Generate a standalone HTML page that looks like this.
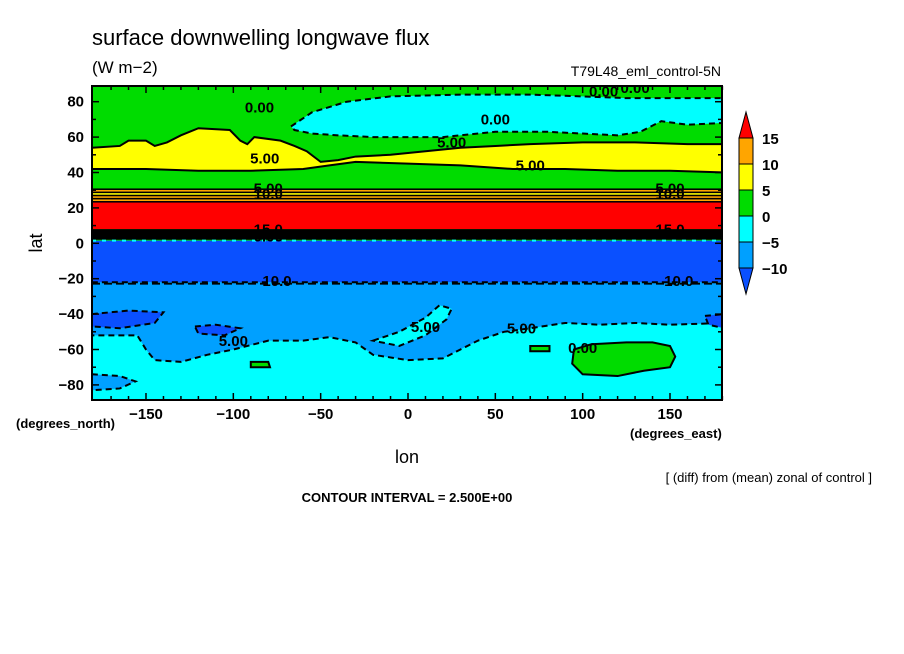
<!DOCTYPE html>
<html><head><meta charset="utf-8"><style>
html,body{margin:0;padding:0;background:#fff;}
svg{display:block;font-family:"Liberation Sans",sans-serif;}
</style></head><body>
<svg id="c" width="904" height="654" viewBox="0 0 904 654" xmlns="http://www.w3.org/2000/svg">
<text x="92" y="45" font-size="22">surface downwelling longwave flux</text>
<text x="92" y="73" font-size="17">(W m−2)</text>
<text x="721" y="76" font-size="14" text-anchor="end">T79L48_eml_control-5N</text>
<defs><clipPath id="pc"><rect x="92" y="86" width="630" height="314"/></clipPath></defs>
<g id="field" clip-path="url(#pc)"></g>
<g id="axes"></g>
<g id="cbar"></g>
<text transform="translate(42,243) rotate(-90)" font-size="18" text-anchor="middle">lat</text>
<text x="16" y="428" font-size="13" font-weight="bold">(degrees_north)</text>
<text x="630" y="438" font-size="13" font-weight="bold">(degrees_east)</text>
<text x="407" y="463" font-size="18" text-anchor="middle">lon</text>
<text x="872" y="482" font-size="13" text-anchor="end">[ (diff) from (mean) zonal of control ]</text>
<text x="407" y="502" font-size="13" font-weight="bold" text-anchor="middle">CONTOUR INTERVAL = 2.500E+00</text>
</svg>
<script>
const lonTicks=[-150,-100,-50,0,50,100,150];
const latTicks=[-80,-60,-40,-20,0,20,40,60,80];
const cbarLevels=[15,10,5,0,-5,-10];
const cbarColors=["#ff0000","#ffa500","#ffff00","#00dc00","#00ffff","#00a0ff","#0a50ff"];
const bandLats=[[31,23,"stripes"],[23,8,"#ff0000"],[8,2,"#000000"],[1.5,-22.8,"#0a50ff"]];
const cyanNorth=[[-67,66],[-55,74],[-35,80],[-10,83],[30,84],[70,84],[100,83],[125,82],[150,82],[180,82],[180,68],[160,67],[145,69],[133,63],[120,61],[100,62],[80,63],[50,63],[20,60],[0,60],[-20,60],[-40,61],[-55,62],[-65,64]];
const yellowBand=[[-181,54],[-165,55],[-160,58],[-150,58],[-145,55],[-138,57],[-130,61],[-120,65],[-102,64],[-96,58],[-92,56],[-88,60],[-73,58],[-65,55],[-58,52],[-50,46],[-40,47],[-30,49],[-10,50],[10,52],[30,54],[50,55],[70,56],[100,57],[130,57],[160,56],[181,56],[181,40],[150,41],[120,41],[90,42],[60,42],[30,44],[0,45],[-30,46],[-45,44],[-60,42],[-90,41],[-120,41],[-150,42],[-181,42]];
const ltBlue=[[-181,-22],[181,-22],[181,-45],[150,-46],[130,-45],[110,-46],[90,-45],[70,-48],[55,-50],[40,-55],[30,-60],[20,-65],[0,-66],[-20,-63],[-30,-56],[-45,-53],[-60,-55],[-80,-55],[-100,-60],[-115,-63],[-130,-67],[-145,-66],[-150,-60],[-155,-52],[-181,-52]];
const cyanSouthBlob=[[-20,-55],[-5,-50],[10,-42],[18,-35],[25,-37],[22,-43],[10,-52],[-5,-58]];
const blueBlobs=[[[-181,-40],[-160,-38],[-140,-39],[-145,-45],[-165,-48],[-181,-47]],[[-122,-47],[-110,-46],[-96,-48],[-105,-52],[-120,-51]],[[170,-41],[181,-40],[181,-48],[172,-46]]];
const ltBlueSouth=[[[-181,-74],[-165,-75],[-156,-78],[-165,-82],[-181,-83]]];
const greenBlobs=[[[95,-60],[105,-57],[125,-56],[140,-56],[150,-58],[153,-64],[150,-70],[135,-72],[120,-75],[100,-74],[94,-68]],[[-90,-67],[-80,-67],[-79,-70],[-90,-70]],[[70,-58],[81,-58],[81,-61],[70,-61]]];
const labels=[[-85,74,"0.00"],[50,67,"0.00"],[112,83,"0.00"],[130,85,"0.00"],[-82,45,"5.00"],[25,54,"5.00"],[70,41,"5.00"],[-80,28,"5.00"],[-80,25,"10.0"],[150,28,"5.00"],[150,25,"10.0"],[-80,5,"15.0"],[150,5,"15.0"],[-80,1,"0.00"],[-75,-24,"10.0"],[155,-24,"10.0"],[-100,-58,"5.00"],[10,-50,"5.00"],[65,-51,"5.00"],[100,-62,"0.00"]];

const NS="http://www.w3.org/2000/svg";
const X=lon=>408+1.7467*lon, Y=lat=>243.3-1.77*lat;
function mk(t,a,p){const e=document.createElementNS(NS,t);for(const k in a)e.setAttribute(k,a[k]);p.appendChild(e);return e;}
const F=document.getElementById('field');
function poly(pts,fill,dash,name){const e=mk('polygon',{points:pts.map(p=>X(p[0])+','+Y(p[1])).join(' '),fill:fill,stroke:'#000','stroke-width':2,'stroke-dasharray':dash?'6,4':'none'},F);

return e;}
const bg=mk('rect',{x:92,y:86,width:630,height:314,fill:'#00dc00'},F);


poly(cyanNorth,'#00ffff',true,'cyan-region-north');
poly(yellowBand,'#ffff00',false,'yellow-band-midlat');
bandLats.forEach(b=>{
 if(b[2]==="stripes"){
  const cols=["#000","#ffa500","#000","#ffff00","#000","#ffa500","#000","#ffa500","#000"];
  const n=cols.length,h=(b[0]-b[1])/n;
  cols.forEach((c,i)=>{const r=mk('rect',{x:92,y:Y(b[0]-i*h),width:630,height:Y(b[0]-(i+1)*h)-Y(b[0]-i*h)+0.5,fill:c},F);
  
  });
 }else{const r=mk('rect',{x:92,y:Y(b[0]),width:630,height:Y(b[1])-Y(b[0]),fill:b[2]},F);
 
 }
});
const cs=mk('rect',{x:92,y:Y(-22),width:630,height:400-Y(-22),fill:'#00ffff'},F);


poly(ltBlue,'#00a0ff',true,'lightblue-region');
mk('line',{x1:92,x2:722,y1:Y(-22.8),y2:Y(-22.8),stroke:'#000','stroke-width':2,'stroke-dasharray':'8,4'},F);
mk('line',{x1:92,x2:722,y1:Y(1.5),y2:Y(1.5),stroke:'#00ffff','stroke-width':2,'stroke-dasharray':'4,6'},F);
poly(cyanSouthBlob,'#00ffff',true,'cyan-blob');
blueBlobs.forEach(b=>poly(b,'#0a50ff',true,'blue-blob'));
ltBlueSouth.forEach(b=>poly(b,'#00a0ff',true,'lightblue-blob'));
greenBlobs.forEach(b=>poly(b,'#00dc00',false,'green-blob'));
labels.forEach(l=>{const t=mk('text',{x:X(l[0]),y:Y(l[1]),'font-size':15,'font-weight':'bold','text-anchor':'middle'},F);t.textContent=l[2];

});
const A=document.getElementById('axes');
const fr=mk('rect',{x:92,y:86,width:630,height:314,fill:'none',stroke:'#000','stroke-width':2},A);


for(let l=-170;l<=180;l+=10){const big=l%50===0;mk('line',{x1:X(l),x2:X(l),y1:400,y2:400-(big?7:4),stroke:'#000','stroke-width':1.5},A);mk('line',{x1:X(l),x2:X(l),y1:86,y2:86+(big?7:4),stroke:'#000','stroke-width':1.5},A);}
for(let l=-80;l<=80;l+=10){const big=l%20===0;mk('line',{x1:92,x2:92+(big?7:4),y1:Y(l),y2:Y(l),stroke:'#000','stroke-width':1.5},A);mk('line',{x1:722,x2:722-(big?7:4),y1:Y(l),y2:Y(l),stroke:'#000','stroke-width':1.5},A);}
lonTicks.forEach(v=>{const t=mk('text',{x:X(v),y:419,'font-size':15,'font-weight':'bold','text-anchor':'middle'},A);t.textContent=v<0?'−'+(-v):v;

});
latTicks.forEach(v=>{const t=mk('text',{x:84,y:Y(v)+5,'font-size':15,'font-weight':'bold','text-anchor':'end'},A);t.textContent=v<0?'−'+(-v):v;

});
const C=document.getElementById('cbar');
const cx=739,cw=14,cTop=138,bh=26;
const tr=mk('polygon',{points:`${cx},${cTop} ${cx+cw/2},${cTop-26} ${cx+cw},${cTop}`,fill:cbarColors[0],stroke:'#000'},C);


for(let i=1;i<cbarColors.length-1;i++){const r=mk('rect',{x:cx,y:cTop+(i-1)*bh,width:cw,height:bh,fill:cbarColors[i],stroke:'#000'},C);

}
const yb=cTop+(cbarColors.length-2)*bh;
const tb=mk('polygon',{points:`${cx},${yb} ${cx+cw/2},${yb+26} ${cx+cw},${yb}`,fill:cbarColors[cbarColors.length-1],stroke:'#000'},C);


cbarLevels.forEach((v,i)=>{const t=mk('text',{x:762,y:cTop+i*bh+6,'font-size':15,'font-weight':'bold'},C);t.textContent=v<0?'−'+(-v):v;

});
</script>
</body></html>
